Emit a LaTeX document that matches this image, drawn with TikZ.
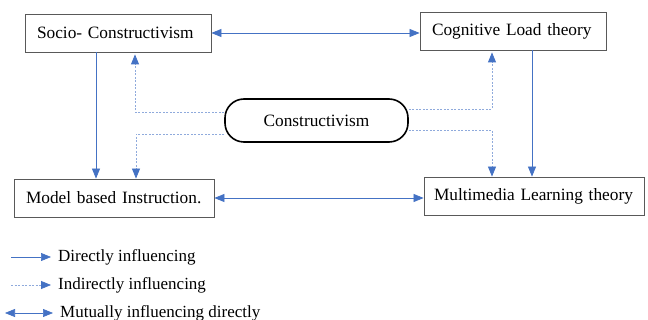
\documentclass[tikz,border=0pt]{standalone}
\usepackage{fontspec}
\setmainfont{Liberation Serif}
\usetikzlibrary{arrows.meta}
\definecolor{linkblue}{HTML}{4472C4}
\definecolor{dashblue}{HTML}{8FAADC}
\definecolor{boxgray}{HTML}{595959}
\tikzset{
  theorybox/.style={draw=boxgray, line width=0.8pt, minimum height=38pt, inner xsep=12pt,
    inner ysep=0pt, align=left, font=\fontsize{17.3}{20}\selectfont},
  hubbox/.style={draw=black, line width=1.6pt, rounded corners=19pt, minimum width=183pt,
    minimum height=43pt, inner sep=0pt, font=\fontsize{17.3}{20}\selectfont},
  direct/.style={draw=linkblue, line width=0.7pt, -{Triangle[length=10pt,width=8pt]}},
  indirect/.style={draw=dashblue, line width=0.8pt, dash pattern=on 2pt off 1.5pt,
    -{Triangle[length=10pt,width=8pt,fill=linkblue,color=linkblue]}},
  mutual/.style={draw=linkblue, line width=0.7pt,
    {Triangle[length=10pt,width=8pt]}-{Triangle[length=10pt,width=8pt]}},
  legendtext/.style={anchor=west, inner sep=0pt, font=\fontsize{17}{20}\selectfont}
}
\begin{document}
\begin{tikzpicture}[x=1pt,y=-1pt]
\useasboundingbox (0,0) rectangle (648,320);

% Drawing the theory boxes
\node[theorybox, text width=162pt] (socio) at (118,33) {Socio- Constructivism};
\node[theorybox, text width=162pt] (cognitive) at (513,31) {Cognitive Load theory};
\node[theorybox, text width=176pt] (model) at (114,198) {Model based Instruction.};
\node[theorybox, inner xsep=10pt, text width=200pt] (multimedia) at (534,196) {Multimedia Learning theory};
\node[hubbox] (constr) at (316.5,120.5) {Constructivism};

% Drawing the mutual links
\draw[mutual] (socio.east) -- (socio.east -| cognitive.west);
\draw[mutual] (model.east) -- (model.east -| multimedia.west);

% Drawing the direct links
\draw[direct] ([xshift=-22pt]socio.south) -- ([xshift=-18pt]model.north);
\draw[direct] ([xshift=19pt]cognitive.south) -- ([xshift=-2pt]multimedia.north);

% Drawing the indirect links
\draw[indirect, shorten >=2pt] ([yshift=8.5pt]constr.west) -| ([xshift=17pt]socio.south);
\draw[indirect] ([yshift=-13.5pt]constr.west) -| ([xshift=22pt]model.north);
\draw[indirect, shorten >=2pt] ([yshift=11.5pt]constr.east) -| ([xshift=-21pt]cognitive.south);
\draw[indirect] ([yshift=-9.5pt]constr.east) -| ([xshift=-42pt]multimedia.north);

% Drawing the legend
\node[legendtext] (dtext) at (58,257) {Directly influencing};
\node[legendtext] (itext) at (58,285) {Indirectly influencing};
\node[legendtext] (mtext) at (60,313) {Mutually influencing directly};
\coordinate (dstart) at (11,257);
\coordinate (istart) at (11,285);
\coordinate (mstart) at (5,313);
\draw[direct, shorten >=7pt] (dstart) -- (dtext.west);
\draw[indirect, shorten >=7pt] (istart) -- (itext.west);
\draw[mutual, shorten >=7pt] (mstart) -- (mtext.west);
\end{tikzpicture}
\end{document}
